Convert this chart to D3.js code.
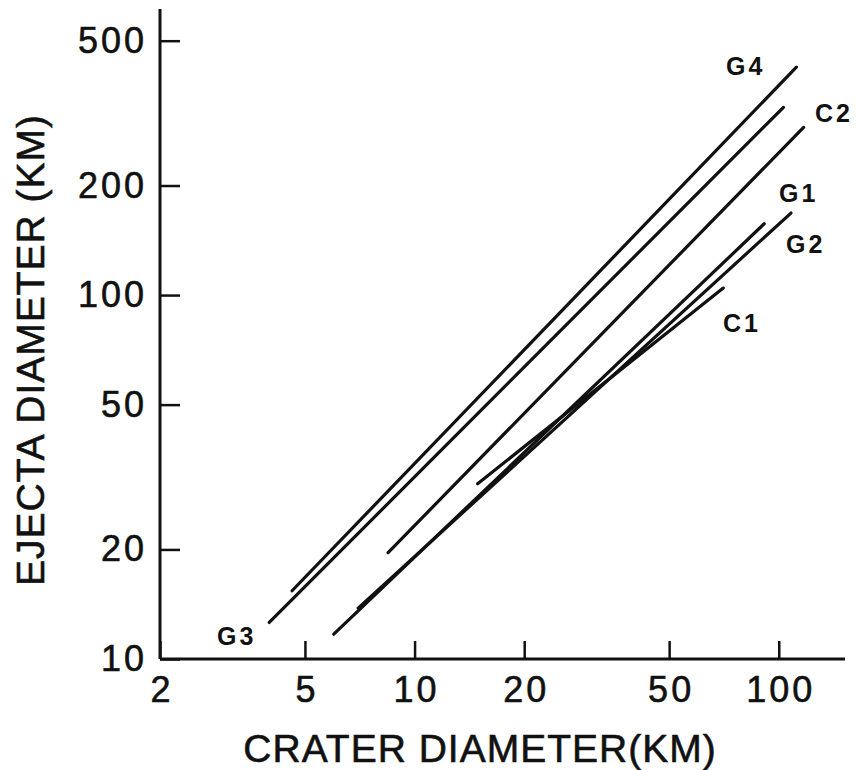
<!DOCTYPE html>
<html>
<head>
<meta charset="utf-8">
<script src="https://cdn.jsdelivr.net/npm/d3@7"></script>
<style>
  body { margin: 0; background: #fff; }
  svg { display: block; }
  text { font-family: "Liberation Sans", Arial, Helvetica, sans-serif; fill: #111; }
</style>
</head>
<body>
<svg id="chart" width="857" height="770"></svg>
<script>
// crater groups as [crater km, ejecta km] end points
const groups = ['G4', 'G3', 'C2', 'G1', 'G2', 'C1'];
const craterStart = [4.61, 3.99, 8.46, 6.0, 7.0, 14.9];
const craterEnd = [111.8, 103, 117, 91.2, 108, 70.4];
const ejectaStart = [15.4, 12.6, 19.6, 11.7, 13.8, 30.3];
const ejectaEnd = [423, 328, 289, 157, 168, 104.5];

const xTicks = [2, 5, 10, 20, 50, 100];
const yTicks = [10, 20, 50, 100, 200, 500];

const W = 857, H = 770;
const margin = { top: 9, right: 12, bottom: 111, left: 160 };

const svg = d3.select('#chart');

const x = d3.scaleLog()
    .domain([2, 152])
    .range([margin.left, W - margin.right]);
const y = d3.scaleLog()
    .domain([10, 611])
    .range([H - margin.bottom, margin.top]);

const INK = '#111';

function inkText(sel, size, spacing) {
    sel.attr('font-size', size)
        .attr('letter-spacing', spacing)
        .attr('fill', INK)
        .attr('stroke', INK)
        .attr('stroke-width', 0.6);
}

// x axis, ticks point up into the plot
const gx = svg.append('g')
    .attr('transform', `translate(0,${y(10)})`)
    .call(d3.axisBottom(x)
        .tickValues(xTicks)
        .tickFormat(d3.format('d'))
        .tickSizeInner(-18)
        .tickSizeOuter(0)
        .tickPadding(17));
gx.select('.domain').remove();
gx.selectAll('.tick line').attr('stroke', INK).attr('stroke-width', 2.5);
gx.selectAll('.tick text').call(inkText, 36, 3).attr('dx', 1.5);

// y axis, ticks point right
const gy = svg.append('g')
    .attr('transform', `translate(${x(2)},0)`)
    .call(d3.axisLeft(y)
        .tickValues(yTicks)
        .tickFormat(d3.format('d'))
        .tickSizeInner(-20)
        .tickSizeOuter(0)
        .tickPadding(13));
gy.select('.domain').remove();
gy.selectAll('.tick line').attr('stroke', INK).attr('stroke-width', 2.5);
gy.selectAll('.tick text').call(inkText, 36, 3);

// axis lines
svg.append('line')
    .attr('x1', x(2)).attr('x2', x(2))
    .attr('y1', y(611)).attr('y2', y(10))
    .attr('stroke', INK).attr('stroke-width', 3);
svg.append('line')
    .attr('x1', x(2)).attr('x2', x(152))
    .attr('y1', y(10)).attr('y2', y(10))
    .attr('stroke', INK).attr('stroke-width', 3);

// fit lines
svg.append('g')
    .selectAll('line')
    .data(groups)
    .join('line')
    .attr('x1', (d, i) => x(craterStart[i]))
    .attr('y1', (d, i) => y(ejectaStart[i]))
    .attr('x2', (d, i) => x(craterEnd[i]))
    .attr('y2', (d, i) => y(ejectaEnd[i]))
    .attr('stroke', INK)
    .attr('stroke-width', 3.2)
    .attr('stroke-linecap', 'round');

// group labels
const labelPos = {
    G4: [726, 75], C2: [815, 122], G1: [779, 202],
    G2: [786, 253], C1: [723, 332], G3: [217, 645],
};
svg.append('g')
    .selectAll('text')
    .data(groups)
    .join('text')
    .attr('x', d => labelPos[d][0])
    .attr('y', d => labelPos[d][1])
    .attr('font-size', 25)
    .attr('font-weight', 'bold')
    .attr('letter-spacing', 3)
    .text(d => d);

// axis titles
svg.append('text')
    .attr('x', 480)
    .attr('y', 762)
    .attr('text-anchor', 'middle')
    .call(inkText, 39, 1)
    .text('CRATER DIAMETER(KM)');

svg.append('text')
    .attr('transform', 'translate(44,350) rotate(-90)')
    .attr('text-anchor', 'middle')
    .call(inkText, 39, 1)
    .text('EJECTA DIAMETER (KM)');
</script>
</body>
</html>
